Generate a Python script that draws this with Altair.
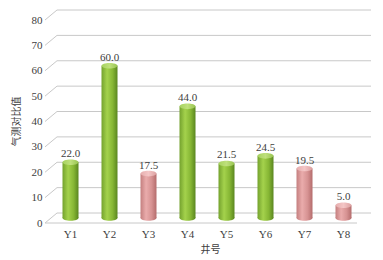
import altair as alt
import pandas as pd

wells = ["Y1", "Y2", "Y3", "Y4", "Y5", "Y6", "Y7", "Y8"]
values = [22.0, 60.0, 17.5, 44.0, 21.5, 24.5, 19.5, 5.0]
groups = ["g", "g", "p", "g", "g", "g", "p", "p"]
ticks = [0, 10, 20, 30, 40, 50, 60, 70, 80]

df = pd.DataFrame({"well": wells, "value": values, "group": groups})
gdf = pd.DataFrame({"v": ticks})

W, H = 312, 203
DX, DY = 12, 10  # depth offsets
MX, MY = 6, -5   # mid-depth offsets
BW = 16
ELL = "M -1 0 A 1 0.35 0 1 0 1 0 A 1 0.35 0 1 0 -1 0 Z"

LABEL_FONT = "Liberation Serif"
CJK = "Noto Sans CJK SC"
TXT = "#404040"
GRID = "#c8c8c8"

xscale = alt.Scale(domain=wells, paddingInner=0, paddingOuter=0)
yscale = alt.Scale(domain=[0, 80], nice=False)

xenc = alt.X("well:N", scale=xscale, sort=wells,
             axis=alt.Axis(title="井号", labelAngle=0, domain=False, ticks=False,
                           labelOffset=MX, labelPadding=5, labelFont=LABEL_FONT,
                           labelFontSize=11, labelColor=TXT, titleFont=CJK,
                           titleFontSize=10, titleColor=TXT, titleFontWeight="normal",
                           titleX=165, titleY=26, titleBaseline="middle"))

yaxis = alt.Axis(title="气测对比值", values=ticks, domain=False, ticks=False, grid=False,
                 labelPadding=3, labelFont=LABEL_FONT, labelFontSize=11, labelColor=TXT,
                 titleFont=CJK, titleFontSize=10, titleColor=TXT, titleFontWeight="normal",
                 titleAngle=270, titleX=-29, titleY=101, titleAlign="center",
                 titleBaseline="middle")

def Y(field):
    return alt.Y(field, scale=yscale, axis=yaxis, title="气测对比值")

back = alt.Chart(gdf).mark_rule(color=GRID, strokeWidth=1, yOffset=-DY).encode(
    y=Y("v:Q"), x=alt.value(DX), x2=alt.value(W + DX + 2))

diag = alt.Chart(gdf).mark_rule(color=GRID, strokeWidth=1, y2Offset=-DY).encode(
    y=Y("v:Q"), y2="v:Q", x=alt.value(0), x2=alt.value(DX))

floor = alt.Chart(gdf).transform_filter("datum.v == 0").mark_rule(
    color=GRID, strokeWidth=1).encode(
    y=Y("v:Q"), x=alt.value(0), x2=alt.value(W))

def grad(stops):
    return alt.Gradient(gradient="linear", x1=0, x2=1, y1=0, y2=0,
                        stops=[alt.GradientStop(offset=o, color=c) for o, c in stops])

styles = {
    "g": dict(body=[(0, "#74a22e"), (0.35, "#a4d24c"), (0.7, "#86b634"), (1, "#5a8620")],
              cap=[(0, "#a6d25e"), (0.5, "#bfe07c"), (1, "#98c450")]),
    "p": dict(body=[(0, "#c47f7f"), (0.35, "#eaacac"), (0.7, "#d69292"), (1, "#b46c6c")],
              cap=[(0, "#e6aeae"), (0.5, "#f4c6c6"), (1, "#dca0a0")]),
}

layers = [back, diag, floor]
for g, st in styles.items():
    base = alt.Chart(df).transform_filter(f"datum.group == '{g}'")
    bottom = base.transform_calculate(z="0").mark_point(
        shape=ELL, size=BW * BW, filled=True, opacity=1,
        fill=grad(st["body"]), strokeWidth=0, xOffset=MX, yOffset=MY).encode(
        x=xenc, y=Y("z:Q"))
    body = base.mark_bar(size=BW, fill=grad(st["body"]), xOffset=MX, yOffset=MY,
                         y2Offset=MY).encode(
        x=xenc, y=Y("value:Q"), y2=alt.datum(0))
    cap = base.mark_point(shape=ELL, size=BW * BW, filled=True, opacity=1,
                          fill=grad(st["cap"]), strokeWidth=0,
                          xOffset=MX, yOffset=MY).encode(
        x=xenc, y=Y("value:Q"))
    layers += [bottom, body, cap]

text = alt.Chart(df).mark_text(font=LABEL_FONT, fontSize=11, color=TXT,
                               baseline="middle", xOffset=MX, yOffset=MY - 8).encode(
    x=xenc, y=Y("value:Q"),
    text=alt.Text("value:Q", format=".1f"))
layers.append(text)

chart = alt.layer(*layers).properties(
    width=W, height=H,
    autosize=alt.AutoSizeParams(type="none"),
    padding={"left": 37, "top": 12, "right": 18, "bottom": 37},
    background="white",
).configure_view(stroke=None)

chart.save("out.html", embed_options={"renderer": "svg", "actions": False})
